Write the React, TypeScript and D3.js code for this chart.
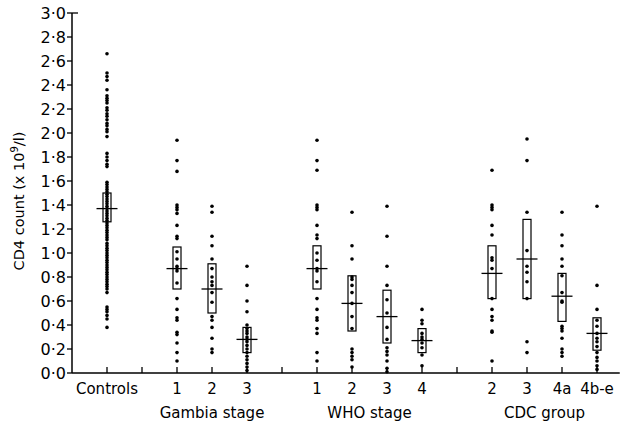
import React from 'react';
import * as d3 from 'd3';

// slot index on the x axis for each category (gaps between the groups)
const categories = ['Controls', '1', '2', '3', '1', '2', '3', '4', '2', '3', '4a', '4b-e'];
const slots = [0, 2, 3, 4, 6, 7, 8, 9, 11, 12, 13, 14];
const emptySlots = [1, 5, 10];

const groupLabels = ['Gambia stage', 'WHO stage', 'CDC group'];
const groupCentres = [3, 7.5, 12.5];

const yTicks = [0, 0.2, 0.4, 0.6, 0.8, 1.0, 1.2, 1.4, 1.6, 1.8, 2.0, 2.2, 2.4, 2.6, 2.8, 3.0];

// CD4 counts (x10^9/l), one array per category
const controls = [
  2.66, 2.5, 2.47, 2.44, 2.36, 2.31, 2.29, 2.27, 2.25, 2.21, 2.19, 2.16, 2.14, 2.11, 2.08, 2.06,
  2.03, 2.01, 1.97, 1.83, 1.8, 1.77, 1.74, 1.72, 1.59, 1.57, 1.55, 1.53, 1.51, 1.49, 1.47, 1.45,
  1.43, 1.41, 1.39, 1.37, 1.35, 1.33, 1.31, 1.29, 1.27, 1.25, 1.23, 1.21, 1.19, 1.17, 1.15, 1.13,
  1.11, 1.08, 1.06, 1.04, 1.02, 1.0, 0.98, 0.96, 0.94, 0.92, 0.9, 0.88, 0.86, 0.84, 0.82, 0.8,
  0.78, 0.76, 0.74, 0.72, 0.7, 0.67, 0.55, 0.53, 0.51, 0.48, 0.45, 0.38,
];
const gambia1 = [1.94, 1.77, 1.68, 1.4, 1.38, 1.36, 1.33, 1.23, 1.14, 1.12, 1.01, 0.95, 0.89, 0.87, 0.85, 0.75, 0.62, 0.53, 0.46, 0.44, 0.34, 0.32, 0.25, 0.17, 0.1];
const gambia2 = [1.39, 1.34, 1.14, 1.06, 0.95, 0.87, 0.8, 0.76, 0.73, 0.67, 0.59, 0.47, 0.44, 0.38, 0.29, 0.2, 0.17];
const gambia3 = [0.89, 0.73, 0.6, 0.51, 0.4, 0.37, 0.35, 0.33, 0.3, 0.28, 0.26, 0.23, 0.2, 0.17, 0.14, 0.11, 0.08, 0.05, 0.02];
const who1 = [1.94, 1.77, 1.69, 1.4, 1.38, 1.36, 1.23, 1.15, 1.12, 1.0, 0.94, 0.87, 0.85, 0.76, 0.62, 0.53, 0.46, 0.44, 0.37, 0.33, 0.17, 0.1];
const who2 = [1.34, 1.06, 0.95, 0.8, 0.78, 0.73, 0.67, 0.58, 0.47, 0.37, 0.2, 0.17, 0.14, 0.11, 0.05];
const who3 = [1.39, 1.14, 0.89, 0.73, 0.61, 0.5, 0.38, 0.28, 0.21, 0.18, 0.15, 0.1, 0.04, 0.01];
const who4 = [0.53, 0.44, 0.41, 0.33, 0.3, 0.28, 0.25, 0.21, 0.15, 0.06];
const cdc2 = [1.69, 1.4, 1.38, 1.36, 1.23, 1.15, 0.96, 0.94, 0.87, 0.62, 0.53, 0.47, 0.44, 0.35, 0.34, 0.1];
const cdc3 = [1.95, 1.77, 1.34, 1.02, 0.89, 0.84, 0.76, 0.62, 0.26, 0.17];
const cdc4a = [1.34, 1.15, 1.06, 0.95, 0.89, 0.81, 0.67, 0.6, 0.59, 0.39, 0.37, 0.35, 0.29, 0.2, 0.17, 0.14];
const cdc4be = [1.39, 0.73, 0.53, 0.44, 0.39, 0.33, 0.29, 0.26, 0.22, 0.17, 0.13, 0.1, 0.06, 0.03];

const series = [controls, gambia1, gambia2, gambia3, who1, who2, who3, who4, cdc2, cdc3, cdc4a, cdc4be];

// box (lower, upper) and median line per category
const boxLow = [1.26, 0.7, 0.5, 0.17, 0.7, 0.35, 0.25, 0.17, 0.62, 0.62, 0.43, 0.19];
const boxHigh = [1.5, 1.05, 0.91, 0.38, 1.06, 0.81, 0.69, 0.37, 1.06, 1.28, 0.83, 0.46];
const medians = [1.37, 0.87, 0.7, 0.28, 0.87, 0.58, 0.47, 0.27, 0.83, 0.95, 0.64, 0.33];

const W = 631;
const H = 425;
const FONT = '"DejaVu Sans", sans-serif';

export default function App() {
  const x = d3.scaleLinear().domain([-1, 14]).range([72, 597]);
  const y = d3.scaleLinear().domain([0, 3]).range([373, 13]);
  const fmt = (v: number) => d3.format('.1f')(v).replace('.', '·');
  const x0 = x(-1);
  const y0 = y(0);

  return (
    <svg width={W} height={H} style={{ position: 'absolute', left: 0, top: 0, background: '#fff' }} fontFamily={FONT}>
      {/* axes */}
      <line x1={x0} x2={x0} y1={y0} y2={y(3)} stroke="#000" strokeWidth={1.5} />
      <line x1={x0} x2={x(14.65)} y1={y0} y2={y0} stroke="#000" strokeWidth={1.5} />
      <line x1={x0} x2={x0 + 6} y1={y(3)} y2={y(3)} stroke="#000" strokeWidth={1.3} />
      {yTicks.map((t) => (
        <g key={t}>
          <line x1={x0 - 5} x2={x0} y1={y(t)} y2={y(t)} stroke="#000" strokeWidth={1.3} />
          <text x={x0 - 6} y={y(t)} dy="0.36em" textAnchor="end" fontSize={16} fill="#000">
            {fmt(t)}
          </text>
        </g>
      ))}
      {[...slots, ...emptySlots].map((s) => (
        <line key={s} x1={x(s)} x2={x(s)} y1={y0} y2={y0 - 6} stroke="#000" strokeWidth={1.3} />
      ))}

      {/* y title */}
      <text transform={`translate(24,${(y(3) + y0) / 2 + 8}) rotate(-90)`} textAnchor="middle" fontSize={14.5} fill="#000">
        CD4 count (x 10<tspan dy={-6} fontSize={10}>9</tspan><tspan dy={6}>/l)</tspan>
      </text>

      {/* dots, boxes and medians */}
      {series.map((vals, i) => {
        const cx = x(slots[i]);
        return (
          <g key={i}>
            {vals.map((v, j) => (
              <circle key={j} cx={cx} cy={y(v)} r={1.8} fill="#000" />
            ))}
            <rect x={cx - 4} y={y(boxHigh[i])} width={8} height={y(boxLow[i]) - y(boxHigh[i])} fill="none" stroke="#000" strokeWidth={1.2} />
            <line x1={cx - 10.5} x2={cx + 10.5} y1={y(medians[i])} y2={y(medians[i])} stroke="#000" strokeWidth={1.3} />
          </g>
        );
      })}

      {/* category labels */}
      {categories.map((c, i) => (
        <text key={i} x={x(slots[i])} y={394} textAnchor="middle" fontSize={15} fill="#000">
          {c}
        </text>
      ))}
      {groupLabels.map((g, i) => (
        <text key={g} x={x(groupCentres[i])} y={418} textAnchor="middle" fontSize={15} fill="#000">
          {g}
        </text>
      ))}
    </svg>
  );
}
